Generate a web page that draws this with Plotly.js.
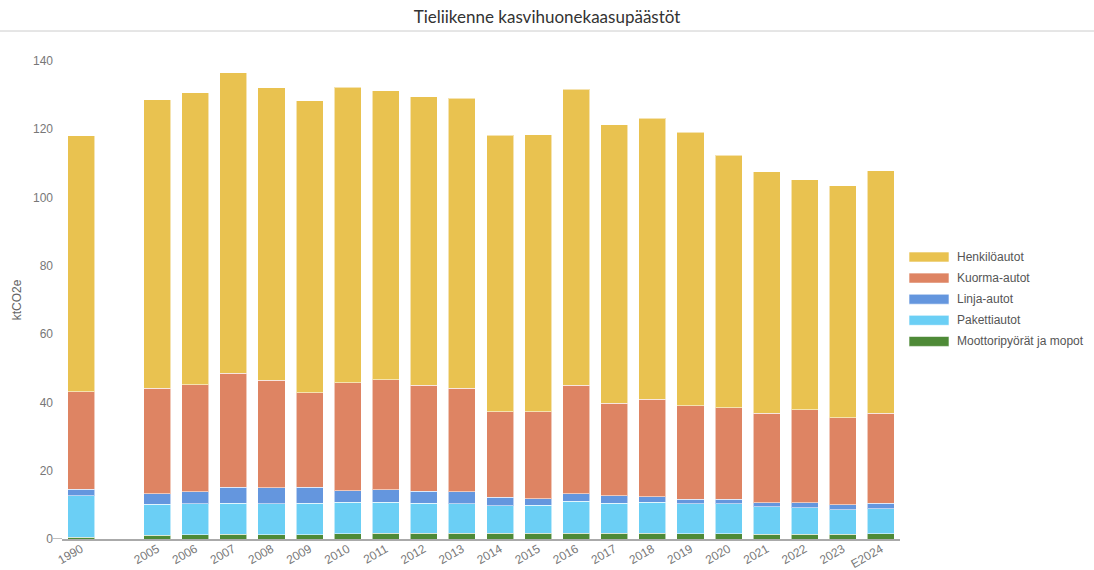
<!DOCTYPE html>
<html>
<head>
<meta charset="utf-8">
<script src="https://cdn.plot.ly/plotly-3.0.1.min.js"></script>
<style>html,body{margin:0;padding:0;background:#fff;}#chart{width:1094px;height:570px;}</style>
</head>
<body>
<div id="chart"></div>
<script>
// Categories (the blank one is the empty slot between 1990 and 2005)
var years = ['1990',' ','2005','2006','2007','2008','2009','2010','2011','2012','2013','2014','2015','2016','2017','2018','2019','2020','2021','2022','2023','E2024'];

var henkiloautot = [75.0,null,84.5,85.5,88.0,85.7,85.5,86.6,84.7,84.5,84.9,81.0,81.2,86.7,81.6,82.2,80.1,73.9,70.8,67.4,68.0,70.9];
var kuormaautot  = [28.6,null,30.8,31.4,33.5,31.5,27.8,31.5,32.2,31.1,30.4,25.0,25.4,31.7,27.1,28.6,27.3,26.8,26.2,27.2,25.5,26.5];
var linjaautot   = [1.9,null,3.1,3.5,4.6,4.7,4.6,3.4,3.6,3.5,3.5,2.6,1.9,2.3,2.1,1.6,1.4,1.4,1.1,1.4,1.5,1.5];
var pakettiautot = [12.1,null,9.1,9.1,9.1,9.0,9.2,9.3,9.1,8.8,8.6,8.0,8.2,9.3,8.8,9.1,8.7,8.8,8.1,7.8,7.1,7.4];
var moottoripyorat = [0.5,null,1.1,1.2,1.4,1.3,1.3,1.5,1.7,1.7,1.7,1.7,1.7,1.7,1.7,1.7,1.6,1.5,1.4,1.4,1.4,1.5];

var seriesNames = ['Henkilöautot','Kuorma-autot','Linja-autot','Pakettiautot','Moottoripyörät ja mopot'];
var seriesColors = ['#E9C250','#DE8463','#6496DE','#6BCFF5','#4E8A37'];
var seriesValues = [henkiloautot, kuormaautot, linjaautot, pakettiautot, moottoripyorat];

var yTicks = [0,20,40,60,80,100,120,140];

// stacking order bottom -> top
var order = [4,3,2,1,0];
var traces = order.map(function(i){
  return {
    type:'bar', name:seriesNames[i], x:years, y:seriesValues[i],
    marker:{color:seriesColors[i], line:{color:'rgba(255,255,255,0.55)', width:1}},
    showlegend:false, hoverinfo:'x+y+name'
  };
});

// plot geometry (for paper-coordinate helpers)
var L=62, R=194, T=61, B=31, W=1094, H=570;
var pw=W-L-R, ph=H-T-B;
function px2x(p){return (p-L)/pw;}
function py2y(p){return (H-B-p)/ph;}

var shapes = [
  {type:'line', xref:'paper', yref:'paper', x0:px2x(0), x1:px2x(W), y0:py2y(31), y1:py2y(31), line:{color:'#cccccc', width:1}},
  {type:'line', xref:'paper', yref:'y', x0:px2x(53), x1:0, y0:0, y1:0, line:{color:'#aaaaaa', width:1.5}}
];
var annotations = [];
seriesNames.forEach(function(n,k){
  var cy = 257 + k*21.1;
  shapes.push({type:'rect', xref:'paper', yref:'paper', x0:px2x(909), x1:px2x(949), y0:py2y(cy+5), y1:py2y(cy-5), fillcolor:seriesColors[k], line:{color:'rgba(255,255,255,0.6)', width:1}});
  annotations.push({xref:'paper', yref:'paper', x:px2x(955), y:py2y(cy), xanchor:'left', yanchor:'middle', text:n, showarrow:false, font:{size:12, color:'#555555', family:'Liberation Sans, Arial, sans-serif'}});
});

var layout = {
  width:W, height:H,
  margin:{l:L, r:R, t:T, b:B, autoexpand:false},
  paper_bgcolor:'#ffffff', plot_bgcolor:'#ffffff',
  font:{family:'Liberation Sans, Arial, sans-serif', color:'#666666', size:12},
  title:{text:'Tieliikenne kasvihuonekaasupäästöt', x:0.5, xref:'container', xanchor:'center', y:1-17/H, yref:'container', yanchor:'middle',
         font:{family:'Lato, sans-serif', size:17, color:'#333333'}},
  barmode:'stack', bargap:0.29,
  showlegend:false,
  xaxis:{type:'category', categoryorder:'array', categoryarray:years, range:[-0.5, years.length-0.5],
         showgrid:false, zeroline:false, showline:true, linecolor:'#aaaaaa', linewidth:1.5,
         ticks:'', tickangle:-30, ticklabelstandoff:-3, tickfont:{size:12, color:'#777777'}, automargin:false, fixedrange:true},
  yaxis:{range:[0,140], tickvals:yTicks, showgrid:false, zeroline:false, showline:false, ticks:'',
         ticklabelstandoff:8, tickfont:{size:12, color:'#777777'},
         title:{text:'ktCO2e', font:{size:12, color:'#666666'}, standoff:8}, automargin:false, fixedrange:true},
  shapes:shapes, annotations:annotations
};

Plotly.newPlot('chart', traces, layout, {displayModeBar:false, staticPlot:true});
</script>
</body>
</html>
